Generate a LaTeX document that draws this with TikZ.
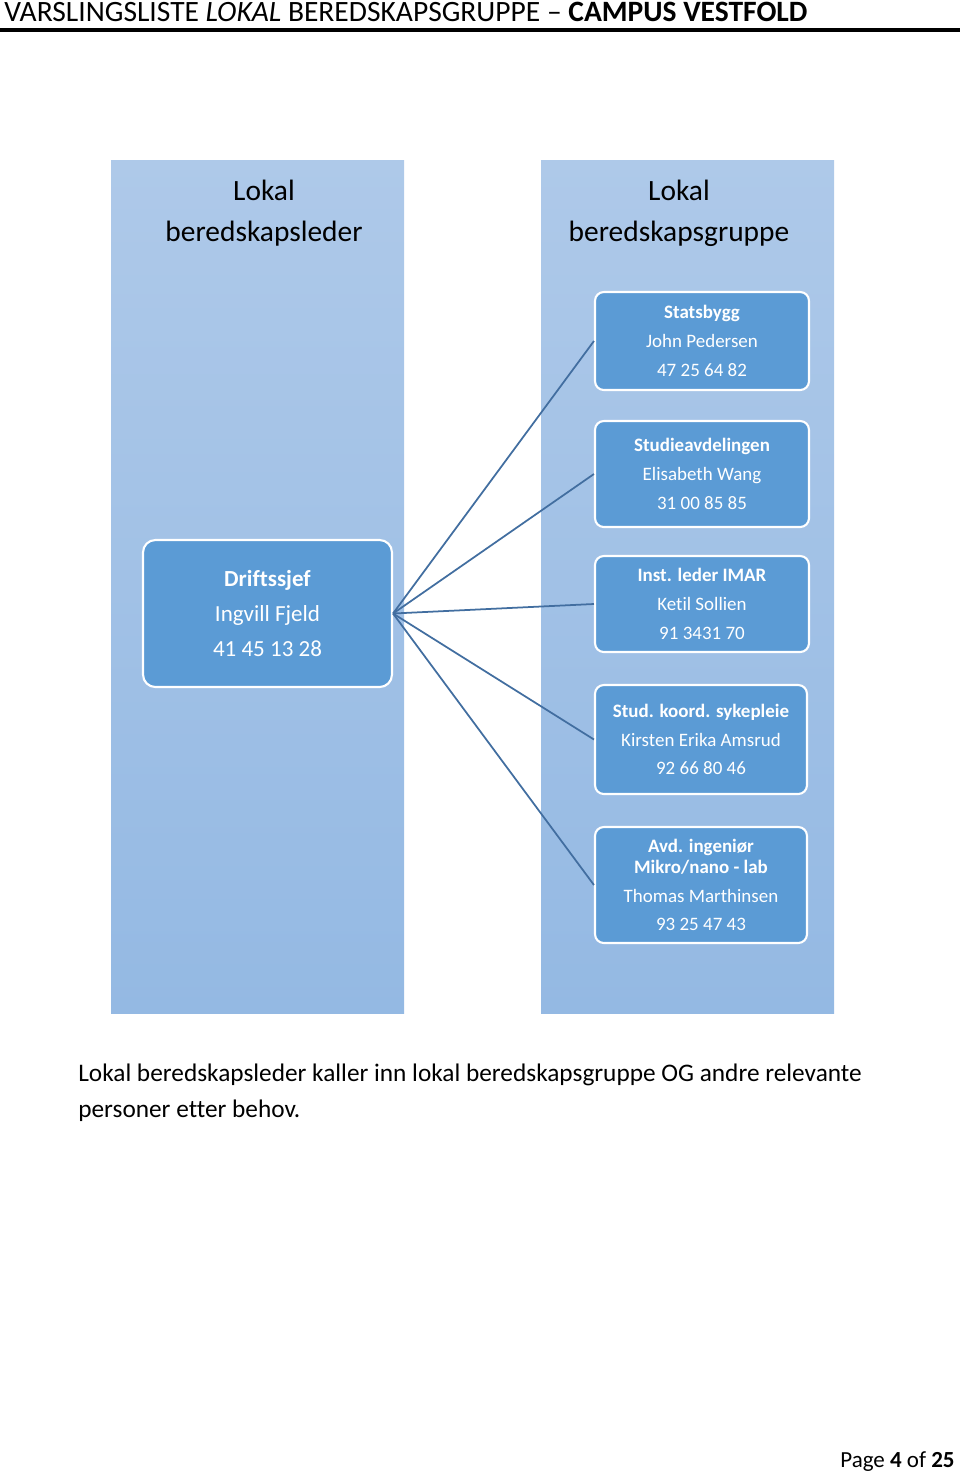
\documentclass[tikz,border=0pt]{standalone}
\usepackage{fontspec}
\setmainfont[Ligatures=NoCommon]{Carlito}
\usepackage{xcolor}
\usepackage{tikz}
\usetikzlibrary{positioning}

\definecolor{coltop}{RGB}{174,201,233}
\definecolor{colbot}{RGB}{148,185,227}
\definecolor{boxblue}{RGB}{91,155,213}
\definecolor{linkblue}{RGB}{66,110,160}

\tikzset{
  column/.style={top color=coltop, bottom color=colbot, draw=none},
  coltitle/.style={align=center, font=\fontsize{16.75}{23.2}\selectfont},
  person/.style={draw=white, line width=1.2pt, fill=boxblue, rounded corners=5pt,
    text=white, align=center, inner sep=0pt, minimum width=4.28cm,
    font=\fontsize{10.8}{16.4}\selectfont},
  link/.style={draw=linkblue, line width=1pt}
}

\begin{document}
\begin{tikzpicture}[x=0.02cm, y=-0.02cm]
    \useasboundingbox (0,0) rectangle (960,1472);

    % Header
    \node[anchor=base west, inner sep=0pt, font=\fontsize{16.8}{18}\selectfont] (head) at (4,21)
        {VARSLINGSLISTE \textit{LOKAL} BEREDSKAPSGRUPPE -- \textbf{CAMPUS VESTFOLD}};
    \draw[line width=1.8pt] (0,30) -- (960,30);

    % Columns
    \fill[column] (111,160) rectangle (404,1013);
    \fill[column] (541,160) rectangle (834,1013);
    \node[coltitle] (leftTitle) at (264,213) {Lokal\\beredskapsleder};
    \node[coltitle] (rightTitle) at (679,213) {Lokal\\beredskapsgruppe};

    % Leader
    \node[person, minimum width=4.98cm, minimum height=2.94cm, rounded corners=7pt,
          font=\fontsize{13.1}{19.8}\selectfont] (chef) at (267.5,613.5)
        {\textbf{Driftssjef}\\Ingvill Fjeld\\41 45 13 28};

    % Group members
    \node[person, minimum height=1.96cm] (statsbygg) at (702,341)
        {\textbf{Statsbygg}\\John Pedersen\\47 25 64 82};
    \node[person, minimum height=2.12cm] (studie) at (702,474)
        {\textbf{Studieavdelingen}\\Elisabeth Wang\\31 00 85 85};
    \node[person, minimum height=1.92cm] (imar) at (702,604)
        {\textbf{Inst. leder IMAR}\\Ketil Sollien\\91 3431 70};
    \node[person, minimum width=4.24cm, minimum height=2.18cm] (sykepleie) at (701,739.5)
        {\textbf{Stud. koord. sykepleie}\\Kirsten Erika Amsrud\\92 66 80 46};
    \node[person, minimum width=4.24cm, minimum height=2.32cm] (ingenior) at (701,885)
        {\textbf{Avd. ingeniør}\\[-4.5pt]\textbf{Mikro/nano - lab}\\Thomas Marthinsen\\93 25 47 43};

    % Links
    \draw[link] (chef.east) -- (statsbygg.west);
    \draw[link] (chef.east) -- (studie.west);
    \draw[link] (chef.east) -- (imar.west);
    \draw[link] (chef.east) -- (sykepleie.west);
    \draw[link] (chef.east) -- (ingenior.west);

    % Note and footer
    \node[anchor=base west, inner sep=0pt, align=left, font=\fontsize{14.4}{20.4}\selectfont] (note) at (78,1117)
        {Lokal beredskapsleder kaller inn lokal beredskapsgruppe OG andre relevante\\personer etter behov.};
    \node[anchor=base east, inner sep=0pt, font=\fontsize{13.1}{15}\selectfont] (page) at (955,1467)
        {Page \textbf{4} of \textbf{25}};
\end{tikzpicture}
\end{document}
